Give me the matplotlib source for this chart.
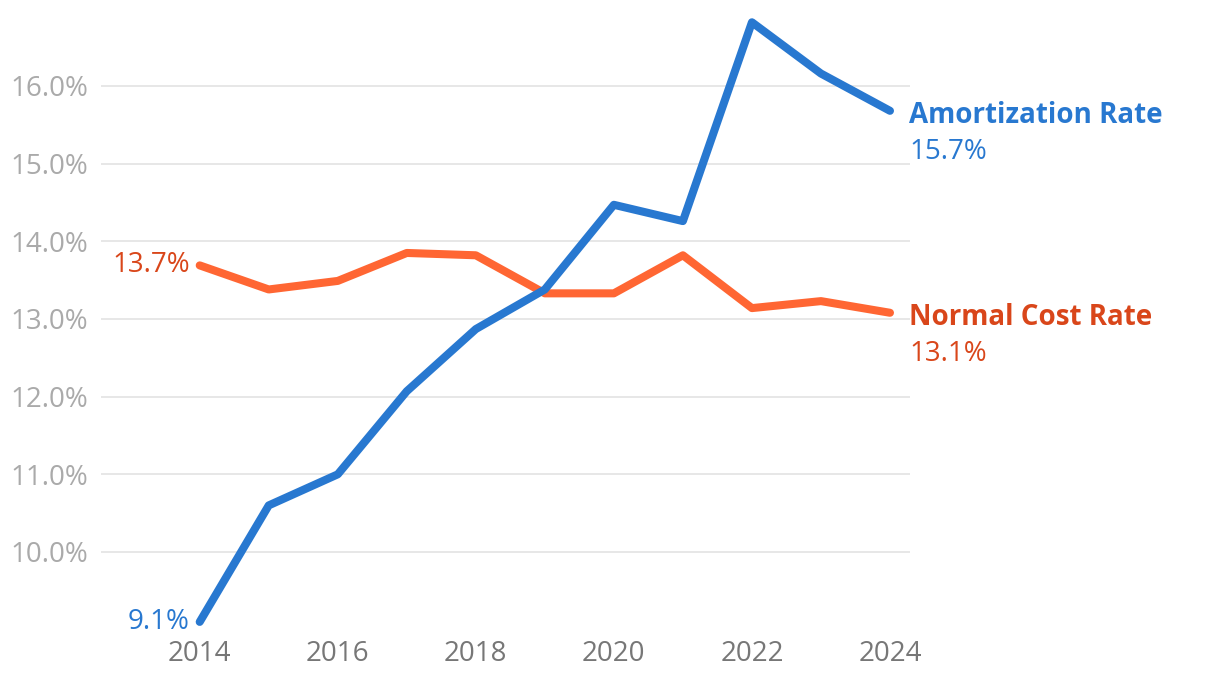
import matplotlib
matplotlib.use("Agg")
import matplotlib.pyplot as plt
from matplotlib.ticker import FuncFormatter

plt.rcParams["font.family"] = ["Open Sans", "DejaVu Sans"]

years = [2014, 2015, 2016, 2017, 2018, 2019, 2020, 2021, 2022, 2023, 2024]
amortization = [9.1, 10.6, 11.0, 12.07, 12.87, 13.38, 14.47, 14.26, 16.82, 16.16, 15.68]
normal_cost = [13.69, 13.38, 13.49, 13.85, 13.82, 13.33, 13.33, 13.82, 13.14, 13.23, 13.08]

blue = "#2878d0"
orange_line = "#ff6633"
orange_text = "#d9461a"

W, H = 1220, 682
fig = plt.figure(figsize=(W / 100, H / 100), dpi=100)
ax = fig.add_axes([101 / W, (H - 640) / H, 809 / W, 630 / H])

ax.plot(years, normal_cost, color=orange_line, lw=5.8, solid_capstyle="round",
        solid_joinstyle="round", zorder=3)
ax.plot(years, amortization, color=blue, lw=5.8, solid_capstyle="round",
        solid_joinstyle="round", zorder=4)

ax.set_xlim(2012.57, 2024.29)
ax.set_ylim(8.867, 16.978)
ax.set_yticks(range(10, 17))
ax.yaxis.set_major_formatter(FuncFormatter(lambda v, p: f"{v:.1f}%"))
ax.set_xticks(range(2014, 2025, 2))
ax.grid(axis="y", color="#e3e3e3", lw=1.2)
ax.set_axisbelow(True)
for s in ax.spines.values():
    s.set_visible(False)
ax.tick_params(axis="both", length=0)
ax.tick_params(axis="y", labelsize=20, labelcolor="#aaaaaa", pad=9)
ax.tick_params(axis="x", labelsize=20, labelcolor="#777777", pad=0)

# start labels
ax.annotate(f"{normal_cost[0]:.1f}%", (years[0], normal_cost[0]), xytext=(-7, 0),
            textcoords="offset points", ha="right", va="center", fontsize=20,
            color=orange_text, annotation_clip=False)
ax.annotate(f"{amortization[0]:.1f}%", (years[0], amortization[0]), xytext=(-7, 0),
            textcoords="offset points", ha="right", va="center", fontsize=20,
            color=blue, annotation_clip=False)

# end labels
for vals, name, col in [(amortization, "Amortization Rate", blue),
                        (normal_cost, "Normal Cost Rate", orange_text)]:
    ax.annotate(name, (years[-1], vals[-1]), xytext=(14, -3.5), textcoords="offset points",
                ha="left", va="center", fontsize=20, fontweight="bold", color=col,
                annotation_clip=False)
    ax.annotate(f"{vals[-1]:.1f}%", (years[-1], vals[-1]), xytext=(14, -30),
                textcoords="offset points", ha="left", va="center", fontsize=20,
                color=col, annotation_clip=False)

fig.savefig("out.png", dpi=100)
